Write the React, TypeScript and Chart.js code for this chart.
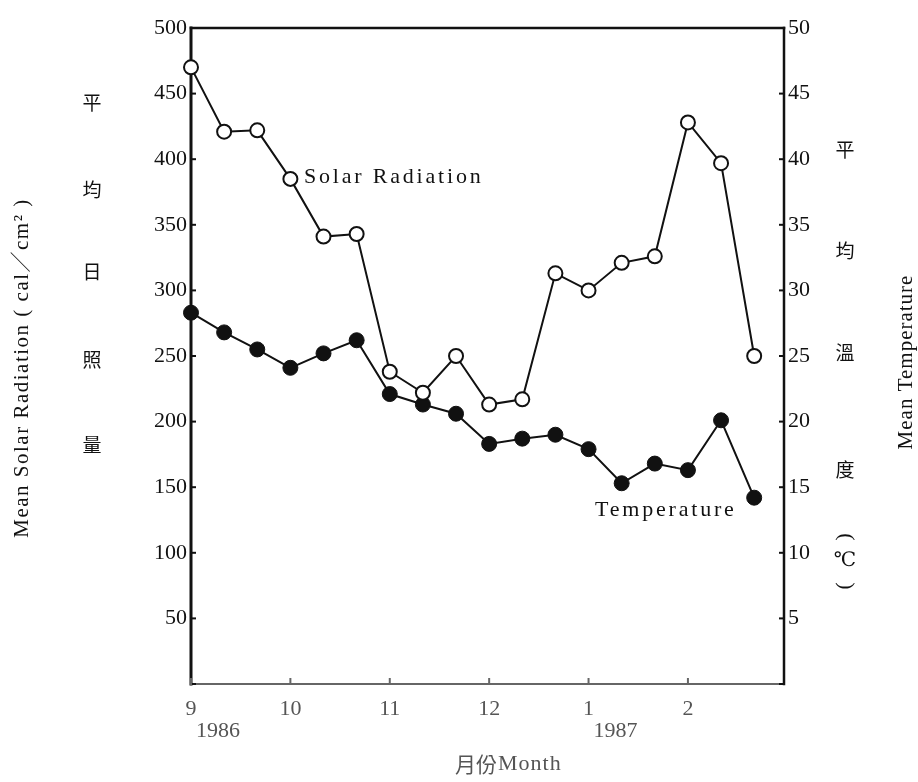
import { useEffect, useRef } from 'react';
import { Chart, registerables } from 'chart.js';

Chart.register(...registerables);

// Ten-day periods (上旬/中旬/下旬) from September 1986 to February 1987
const periods = [
  '9上', '9中', '9下', '10上', '10中', '10下', '11上', '11中', '11下',
  '12上', '12中', '12下', '1上', '1中', '1下', '2上', '2中', '2下',
];
const monthLabels = ['9', '10', '11', '12', '1', '2'];
const yearLabels = ['1986', '', '', '', '1987', ''];

// Mean solar radiation (cal/cm²)
const solarRadiation = [470, 421, 422, 385, 341, 343, 238, 222, 250, 213, 217, 313, 300, 321, 326, 428, 397, 250];
// Mean temperature (°C)
const temperature = [28.3, 26.8, 25.5, 24.1, 25.2, 26.2, 22.1, 21.3, 20.6, 18.3, 18.7, 19.0, 17.9, 15.3, 16.8, 16.3, 20.1, 14.2];

const leftTickValues = [0, 50, 100, 150, 200, 250, 300, 350, 400, 450, 500];
const rightTickValues = [0, 5, 10, 15, 20, 25, 30, 35, 40, 45, 50];

const leftChars = ['平', '均', '日', '照', '量'];
const rightChars = ['平', '均', '溫', '度'];

const SERIF = '"Liberation Serif", "DejaVu Serif", serif';
const CJK = '"Noto Sans CJK TC", "Noto Sans CJK SC", sans-serif';

const framePlugin = {
  id: 'frame',
  beforeDatasetsDraw(chart: any) {
    const { ctx, chartArea } = chart;
    const { left, right, top, bottom } = chartArea;
    ctx.save();
    ctx.lineCap = 'square';
    ctx.strokeStyle = '#111';
    ctx.lineWidth = 2.5;
    ctx.beginPath(); ctx.moveTo(left, top); ctx.lineTo(right, top); ctx.stroke();
    ctx.lineWidth = 3;
    ctx.beginPath(); ctx.moveTo(left, top); ctx.lineTo(left, bottom); ctx.stroke();
    ctx.lineWidth = 2.5;
    ctx.beginPath(); ctx.moveTo(right, top); ctx.lineTo(right, bottom); ctx.stroke();
    ctx.strokeStyle = '#666';
    ctx.lineWidth = 2;
    ctx.beginPath(); ctx.moveTo(left, bottom); ctx.lineTo(right, bottom); ctx.stroke();

    const yl = chart.scales.y;
    const yr = chart.scales.y1;
    const xs = chart.scales.x;
    ctx.lineWidth = 2;
    ctx.strokeStyle = '#111';
    yl.ticks.forEach((t: any) => {
      const py = yl.getPixelForValue(t.value);
      ctx.beginPath(); ctx.moveTo(left, py); ctx.lineTo(left + 4, py); ctx.stroke();
    });
    yr.ticks.forEach((t: any) => {
      const py = yr.getPixelForValue(t.value);
      ctx.beginPath(); ctx.moveTo(right - 4, py); ctx.lineTo(right, py); ctx.stroke();
    });
    ctx.strokeStyle = '#666';
    xs.ticks.forEach((t: any) => {
      const px = xs.getPixelForValue(t.value);
      ctx.beginPath(); ctx.moveTo(px, bottom); ctx.lineTo(px, bottom - 5); ctx.stroke();
    });
    ctx.restore();
  },
  afterDraw(chart: any) {
    const { ctx } = chart;
    const xs = chart.scales.x;
    ctx.save();
    ctx.fillStyle = '#111';
    ctx.textAlign = 'center';
    ctx.textBaseline = 'middle';

    // left axis title (rotated)
    ctx.save();
    ctx.translate(22, 368);
    ctx.rotate(-Math.PI / 2);
    ctx.font = `21px ${SERIF}, ${CJK}`;
    (ctx as any).letterSpacing = '1.5px';
    ctx.fillText('Mean Solar Radiation ( cal／cm² )', 0, 0);
    ctx.restore();

    // right axis title (rotated)
    ctx.save();
    ctx.translate(906, 362);
    ctx.rotate(-Math.PI / 2);
    ctx.font = `21px ${SERIF}`;
    (ctx as any).letterSpacing = '1px';
    ctx.fillText('Mean Temperature', 0, 0);
    ctx.restore();

    // Chinese vertical labels
    ctx.font = `19px ${CJK}`;
    const leftY = [103, 190, 272, 360, 445];
    leftChars.forEach((c, i) => ctx.fillText(c, 92, leftY[i]));
    const rightY = [150, 251, 353, 470];
    rightChars.forEach((c, i) => ctx.fillText(c, 845, rightY[i]));
    // (℃) written vertically: rotated parentheses around the unit
    ctx.font = `20px ${SERIF}, ${CJK}`;
    ctx.fillText('℃', 845, 561);
    ctx.font = `22px ${SERIF}`;
    ctx.save();
    ctx.translate(846, 537);
    ctx.rotate(Math.PI / 2);
    ctx.fillText('(', 0, 0);
    ctx.restore();
    ctx.save();
    ctx.translate(846, 586);
    ctx.rotate(Math.PI / 2);
    ctx.fillText(')', 0, 0);
    ctx.restore();

    // series annotations
    ctx.textAlign = 'left';
    ctx.font = `22px ${SERIF}`;
    (ctx as any).letterSpacing = '2.8px';
    ctx.fillText('Solar Radiation', 304, 177);
    ctx.fillText('Temperature', 595, 510);
    (ctx as any).letterSpacing = '0px';

    // year labels under month ticks
    ctx.fillStyle = '#555';
    ctx.textAlign = 'center';
    ctx.font = `22px ${SERIF}`;
    yearLabels.forEach((y, i) => {
      if (!y) return;
      ctx.fillText(y, xs.getPixelForValue(i * 3) + 27, 731);
    });

    // x axis title
    ctx.font = `21px ${CJK}`;
    ctx.fillText('月份', 476, 764);
    ctx.font = `22px ${SERIF}`;
    (ctx as any).letterSpacing = '1px';
    ctx.textAlign = 'left';
    ctx.fillText('Month', 498, 764);
    ctx.restore();
  },
};

export default function App() {
  const ref = useRef<HTMLCanvasElement | null>(null);

  useEffect(() => {
    if (!ref.current) return;
    const chart = new Chart(ref.current, {
      type: 'line',
      data: {
        labels: periods,
        datasets: [
          {
            label: 'Solar Radiation',
            data: solarRadiation.map((v, i) => ({ x: i, y: v })),
            yAxisID: 'y',
            borderColor: '#111',
            borderWidth: 2,
            pointRadius: 7,
            pointBorderWidth: 2,
            pointBackgroundColor: '#fff',
            pointBorderColor: '#111',
            tension: 0,
            clip: false,
          } as any,
          {
            label: 'Temperature',
            data: temperature.map((v, i) => ({ x: i, y: v })),
            yAxisID: 'y1',
            borderColor: '#111',
            borderWidth: 2,
            pointRadius: 7.5,
            pointBorderWidth: 1,
            pointBackgroundColor: '#111',
            pointBorderColor: '#111',
            tension: 0,
            clip: false,
          } as any,
        ],
      },
      options: {
        animation: false,
        responsive: false,
        maintainAspectRatio: false,
        layout: { padding: { top: 28, left: 0, right: 0, bottom: 0 } },
        plugins: { legend: { display: false }, tooltip: { enabled: false } },
        scales: {
          x: {
            type: 'linear',
            min: 0,
            max: 17.9,
            grid: { display: false, drawTicks: false },
            border: { display: false },
            afterBuildTicks: (s: any) => {
              s.ticks = monthLabels.map((_, j) => ({ value: j * 3 }));
            },
            afterFit: (s: any) => { s.height = 98; },
            ticks: {
              autoSkip: false,
              maxRotation: 0,
              padding: 12,
              color: '#555',
              font: { family: SERIF, size: 22 },
              callback: (_v: any, i: number) => monthLabels[i],
            },
          },
          y: {
            type: 'linear',
            position: 'left',
            min: 0,
            max: 500,
            grid: { display: false, drawTicks: false },
            border: { display: false },
            afterBuildTicks: (s: any) => {
              s.ticks = leftTickValues.map((v) => ({ value: v }));
            },
            afterFit: (s: any) => { s.width = 191; },
            ticks: {
              padding: 4,
              color: '#111',
              font: { family: SERIF, size: 22 },
              callback: (v: any) => (v === 0 ? '' : String(v)),
            },
          },
          y1: {
            type: 'linear',
            position: 'right',
            min: 0,
            max: 50,
            grid: { display: false, drawTicks: false },
            border: { display: false },
            afterBuildTicks: (s: any) => {
              s.ticks = rightTickValues.map((v) => ({ value: v }));
            },
            afterFit: (s: any) => { s.width = 134; },
            ticks: {
              padding: 4,
              color: '#111',
              font: { family: SERIF, size: 22 },
              callback: (v: any) => (v === 0 ? '' : String(v)),
            },
          },
        },
      },
      plugins: [framePlugin],
    });
    return () => chart.destroy();
  }, []);

  return (
    <div style={{ position: 'fixed', left: 0, top: 0, width: 918, height: 782, background: '#fff' }}>
      <canvas ref={ref} width={918} height={782} style={{ width: 918, height: 782, display: 'block' }} />
    </div>
  );
}
